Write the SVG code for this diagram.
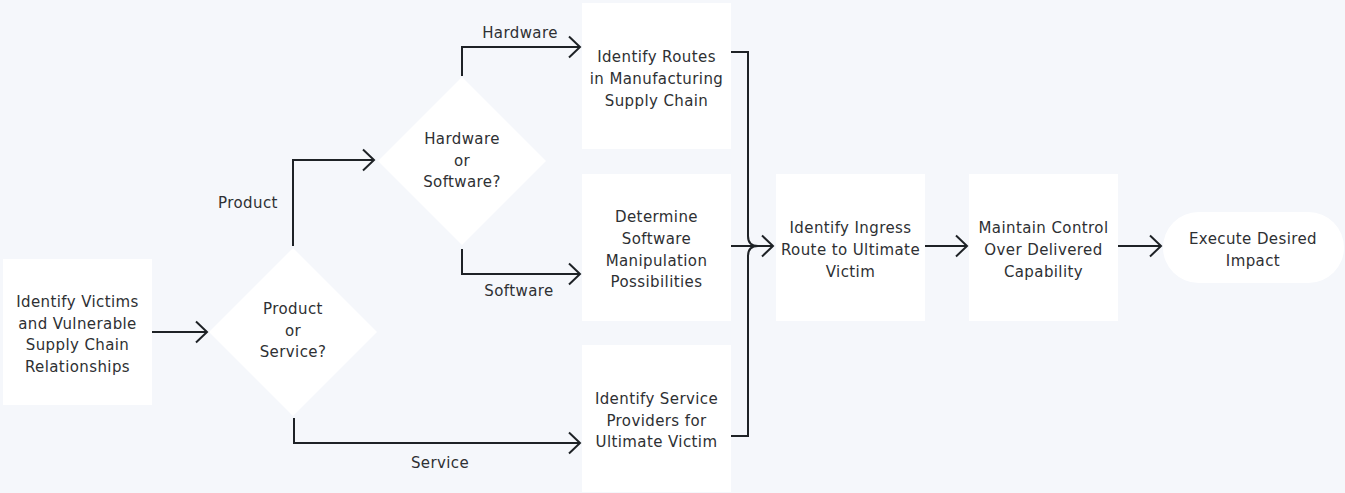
<svg xmlns="http://www.w3.org/2000/svg" width="1345" height="493" viewBox="0 0 1345 493">
<defs>
<style>
.bg{fill:#F5F7FB}
.node{fill:#FFFFFF}
text{font-family:"DejaVu Sans","Liberation Sans",sans-serif;font-size:15px;fill:#2E3033;text-anchor:middle;letter-spacing:0.4px}
.edge{fill:none;stroke:#1E2226;stroke-width:2}
</style>
<marker id="arr" viewBox="0 0 14 24" refX="12" refY="12" markerWidth="14" markerHeight="24" markerUnits="userSpaceOnUse" orient="auto">
<path d="M1,1.5 L12,12 L1,22.5" fill="none" stroke="#1E2226" stroke-width="2"/>
</marker>
</defs>
<rect class="bg" x="0" y="0" width="1345" height="493"/>
<g id="connectors">
<path class="edge" d="M152,332 H207" marker-end="url(#arr)"/>
<path class="edge" d="M293,246 V160 H374" marker-end="url(#arr)"/>
<path class="edge" d="M462,76 V47 H580" marker-end="url(#arr)"/>
<path class="edge" d="M462,249 V274 H580" marker-end="url(#arr)"/>
<path class="edge" d="M294,418 V443 H580" marker-end="url(#arr)"/>
<path class="edge" d="M731,52 H748 V236 Q748,246 758,246"/>
<path class="edge" d="M731,436 H748 V256 Q748,246 758,246"/>
<path class="edge" d="M731,246 H773" marker-end="url(#arr)"/>
<path class="edge" d="M925,246 H967" marker-end="url(#arr)"/>
<path class="edge" d="M1118,246 H1161" marker-end="url(#arr)"/>
<text x="248" y="208">Product</text>
<text x="520" y="38">Hardware</text>
<text x="519" y="296">Software</text>
<text x="440" y="468">Service</text>
</g>
<g id="n1">
<rect class="node" x="3" y="259" width="149" height="146"/>
<text x="77.5" y="307">Identify Victims</text>
<text x="77.5" y="329">and Vulnerable</text>
<text x="77.5" y="350">Supply Chain</text>
<text x="77.5" y="372">Relationships</text>
</g>
<g id="d1">
<polygon class="node" points="293,248 377,332 293,416 209,332"/>
<text x="293" y="314">Product</text>
<text x="293" y="336">or</text>
<text x="293" y="357">Service?</text>
</g>
<g id="d2">
<polygon class="node" points="462,77 546,161 462,245 378,161"/>
<text x="462" y="144">Hardware</text>
<text x="462" y="166">or</text>
<text x="462" y="187">Software?</text>
</g>
<g id="n2">
<rect class="node" x="582" y="3" width="149" height="146"/>
<text x="656.5" y="62">Identify Routes</text>
<text x="656.5" y="84">in Manufacturing</text>
<text x="656.5" y="106">Supply Chain</text>
</g>
<g id="n3">
<rect class="node" x="582" y="174" width="149" height="147"/>
<text x="656.5" y="222">Determine</text>
<text x="656.5" y="244">Software</text>
<text x="656.5" y="265.5">Manipulation</text>
<text x="656.5" y="287">Possibilities</text>
</g>
<g id="n4">
<rect class="node" x="582" y="345" width="149" height="147"/>
<text x="656.5" y="404">Identify Service</text>
<text x="656.5" y="426">Providers for</text>
<text x="656.5" y="447">Ultimate Victim</text>
</g>
<g id="n5">
<rect class="node" x="776" y="174" width="149" height="147"/>
<text x="850.5" y="233">Identify Ingress</text>
<text x="850.5" y="255">Route to Ultimate</text>
<text x="850.5" y="277">Victim</text>
</g>
<g id="n6">
<rect class="node" x="969" y="174" width="149" height="147"/>
<text x="1043.5" y="233">Maintain Control</text>
<text x="1043.5" y="255">Over Delivered</text>
<text x="1043.5" y="277">Capability</text>
</g>
<g id="n7">
<rect class="node" x="1163" y="212" width="181" height="71" rx="35.5" ry="35.5"/>
<text x="1253" y="244">Execute Desired</text>
<text x="1253" y="266">Impact</text>
</g>
</svg>
